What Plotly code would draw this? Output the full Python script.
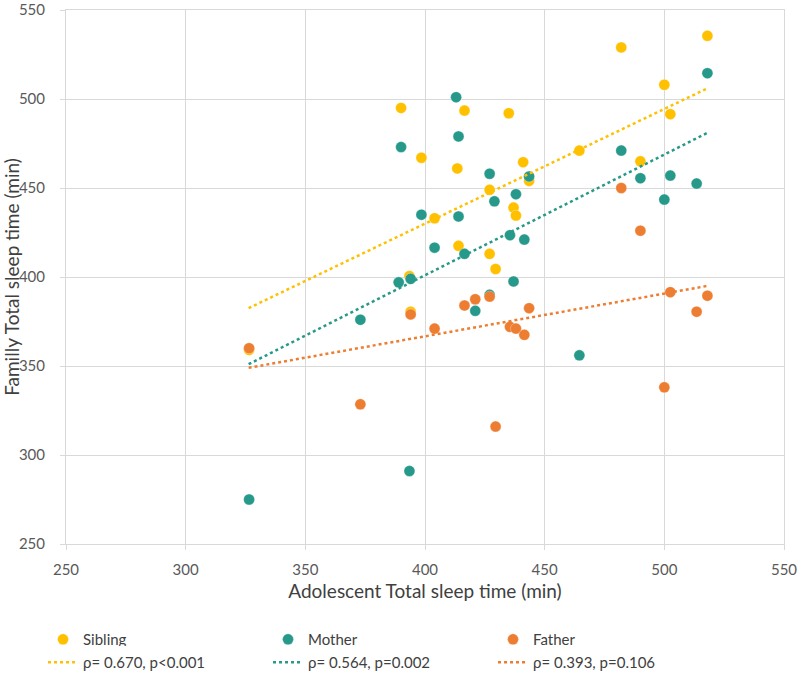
import plotly.graph_objects as go

sib_x = [326.5, 390, 393.5, 394, 398.5, 404, 413.5, 414, 416.5, 427, 427, 429.5, 435, 437, 438, 441, 443.5, 464.5, 482, 490, 500, 502.5, 518]
sib_y = [359, 495, 400.5, 380.5, 467, 433, 461, 417.5, 493.5, 449, 413, 404.5, 492, 439, 434.5, 464.5, 454, 471, 529, 465, 508, 491.5, 535.5]

mot_x = [326.5, 373, 389, 390, 393.5, 394, 398.5, 404, 413, 414, 414, 416.5, 421, 427, 427, 429, 435.5, 437, 438, 441.5, 443.5, 464.5, 482, 490, 500, 502.5, 513.5, 518]
mot_y = [275, 376, 397, 473, 291, 399, 435, 416.5, 501, 479, 434, 413, 381, 458, 390, 442.5, 423.5, 397.5, 446.5, 421, 456.5, 356, 471, 455.5, 443.5, 457, 452.5, 514.5]

fat_x = [326.5, 373, 394, 404, 416.5, 421, 427, 429.5, 435.5, 438, 441.5, 443.5, 482, 490, 500, 502.5, 513.5, 518]
fat_y = [360, 328.5, 379, 371, 384, 387.5, 389, 316, 372, 371, 367.5, 382.5, 450, 426, 338, 391.5, 380.5, 389.5]

# linear trend lines (endpoints)
trend_x = [326.3, 518]
sib_trend = [382.5, 506]
mot_trend = [351, 481]
fat_trend = [349, 395]

names = ["Sibling", "Mother", "Father"]
trend_labels = ["ρ= 0.670, p<0.001", "ρ= 0.564, p=0.002", "ρ= 0.393, p=0.106"]
colors = ["#FFC000", "#26998A", "#ED7D31"]

series = [(sib_x, sib_y), (mot_x, mot_y), (fat_x, fat_y)]
trends = [sib_trend, mot_trend, fat_trend]

fig = go.Figure()
for (xs, ys), name, col in zip(series, names, colors):
    fig.add_trace(go.Scatter(x=xs, y=ys, mode="markers", name=name,
                             marker=dict(color=col, size=11, line=dict(color="rgba(255,255,255,0.6)", width=0.5)),
                             legend="legend"))
for ty, lab, col in zip(trends, trend_labels, colors):
    fig.add_trace(go.Scatter(x=trend_x, y=ty, mode="lines", name=lab,
                             line=dict(color=col, width=2.5, dash="dot"), legend="legend2"))

axis_common = dict(showgrid=True, gridcolor="#D9D9D9", gridwidth=1, zeroline=False,
                   showline=True, linecolor="#D9D9D9", mirror=True,
                   ticks="outside", ticklen=5, tickcolor="#D9D9D9",
                   ticklabeloverflow="allow",
                   tickfont=dict(family="Lato", size=15, color="#595959"))

fig.update_layout(
    width=797, height=673,
    margin=dict(l=66, r=13, t=10, b=129, autoexpand=False),
    plot_bgcolor="white", paper_bgcolor="white",
    font=dict(family="Lato", color="#404040"),
    xaxis=dict(range=[250, 550], dtick=50, ticklabelstandoff=7,
               title=dict(text="Adolescent Total sleep time (min)",
                          font=dict(family="Lato", size=19, color="#404040"), standoff=7), **axis_common),
    yaxis=dict(range=[250, 550], dtick=50, ticklabelstandoff=12,
               title=dict(text="Familly Total sleep time (min)",
                          font=dict(family="Lato", size=19, color="#404040"), standoff=3), **axis_common),
    legend=dict(orientation="h", x=-0.032, xanchor="left", y=-0.148, yanchor="top",
                entrywidth=180, itemwidth=30, font=dict(family="Lato", size=15, color="#404040"),
                traceorder="normal"),
    legend2=dict(orientation="h", x=-0.032, xanchor="left", y=-0.191, yanchor="top",
                 entrywidth=180, itemwidth=30, font=dict(family="Lato", size=15, color="#404040"),
                 traceorder="normal"),
)

fig.write_html("out.html", config={"displayModeBar": False},
               post_script="document.body.style.margin='0';document.body.style.overflow='hidden';")
